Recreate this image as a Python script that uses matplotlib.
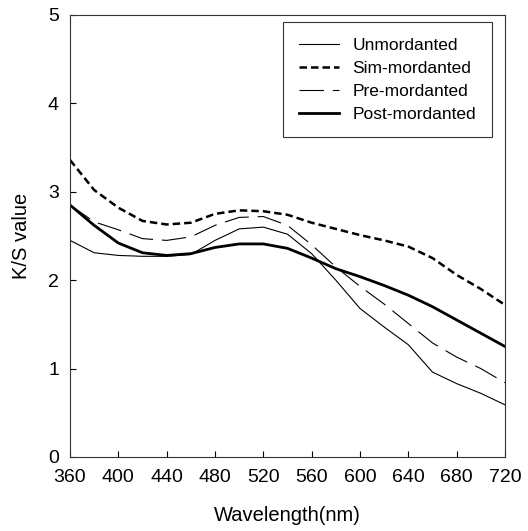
import numpy as np
import matplotlib.pyplot as plt

plt.rcParams['font.family'] = ['Liberation Sans', 'DejaVu Sans']

wavelength = np.arange(360, 721, 20)

unmordanted = [2.45, 2.31, 2.28, 2.27, 2.27, 2.29, 2.45, 2.58, 2.60, 2.52,
               2.30, 2.00, 1.68, 1.47, 1.27, 0.96, 0.83, 0.72, 0.59]
sim_mordanted = [3.36, 3.02, 2.82, 2.67, 2.63, 2.65, 2.75, 2.79, 2.78, 2.74,
                 2.65, 2.58, 2.51, 2.45, 2.38, 2.25, 2.06, 1.90, 1.72]
pre_mordanted = [2.85, 2.66, 2.57, 2.47, 2.45, 2.49, 2.62, 2.71, 2.72, 2.62,
                 2.40, 2.15, 1.93, 1.73, 1.51, 1.29, 1.13, 1.00, 0.84]
post_mordanted = [2.85, 2.62, 2.42, 2.31, 2.28, 2.30, 2.37, 2.41, 2.41, 2.36,
                  2.25, 2.13, 2.04, 1.94, 1.83, 1.70, 1.55, 1.40, 1.25]

fig = plt.figure(figsize=(5.28, 5.31), dpi=100)
ax = fig.add_axes([0.1326, 0.1394, 0.8238, 0.8324])

ax.plot(wavelength, unmordanted, color='black', lw=0.8, label='Unmordanted')
ax.plot(wavelength, sim_mordanted, color='black', lw=1.8, ls=(0, (3, 1.6)), label='Sim-mordanted')
ax.plot(wavelength, pre_mordanted, color='black', lw=0.8, ls=(0, (22, 8)), label='Pre-mordanted')
ax.plot(wavelength, post_mordanted, color='black', lw=2.0, label='Post-mordanted')

ax.set_xlim(360, 720)
ax.set_ylim(0, 5)
ax.set_xticks(np.arange(360, 721, 40))
ax.set_yticks(np.arange(0, 6, 1))
ax.tick_params(direction='in', length=4, width=0.8, labelsize=14, top=False, right=False)
ax.tick_params(axis='x', pad=9)
ax.tick_params(axis='y', pad=8)
for s in ax.spines.values():
    s.set_linewidth(0.8)
    s.set_color('#333333')

ax.set_xlabel('Wavelength(nm)', fontsize=14.5, labelpad=14)
ax.set_ylabel('K/S value', fontsize=14.5, labelpad=12)

leg = ax.legend(loc='upper right', fontsize=12.5, frameon=True, fancybox=False,
                edgecolor='black', handlelength=2.3, handletextpad=0.8,
                borderpad=0.9, labelspacing=0.45, borderaxespad=0,
                bbox_to_anchor=(0.97, 0.984))
leg.get_frame().set_linewidth(0.8)

fig.savefig('out.png', dpi=100)
